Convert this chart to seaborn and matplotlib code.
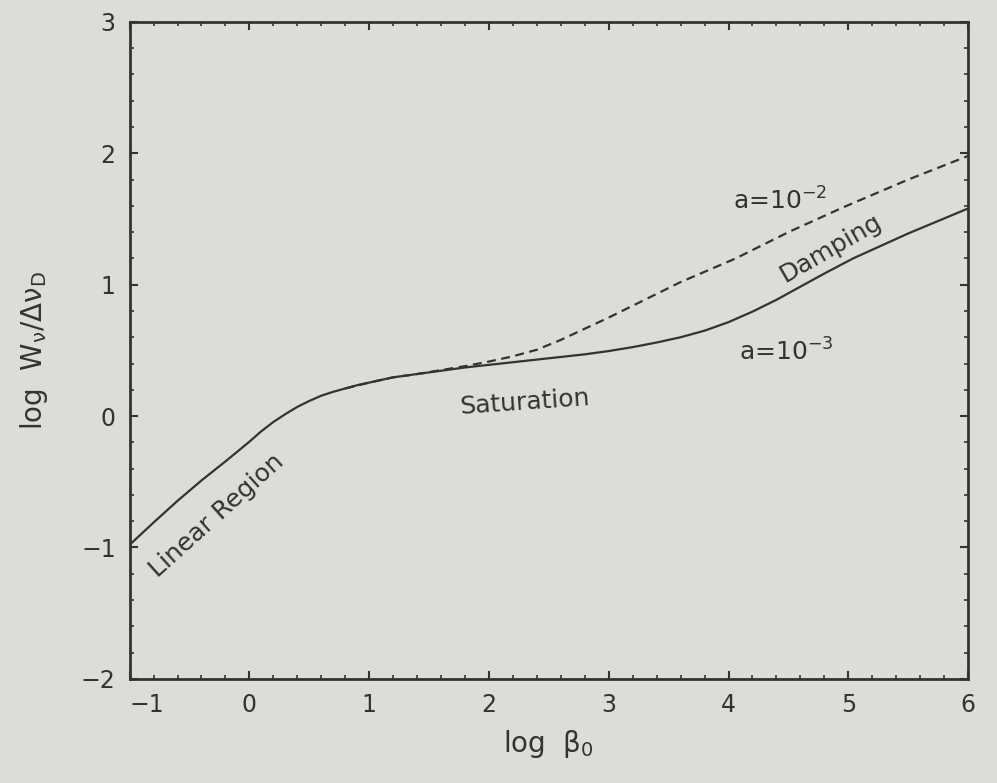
import matplotlib
matplotlib.use("Agg")
import matplotlib.pyplot as plt
import seaborn as sns
import pandas as pd

# ---- data ----
x_a3 = [-1.0, -0.8, -0.6, -0.4, -0.2, -0.1, 0.0, 0.1, 0.2, 0.3, 0.4, 0.5, 0.6, 0.7, 0.8, 0.9, 1.0,
        1.2, 1.4, 1.6, 1.8, 2.0, 2.2, 2.4, 2.6, 2.8, 3.0, 3.2, 3.4, 3.6, 3.8, 4.0, 4.2, 4.4, 4.6,
        4.8, 5.04, 5.5, 6.0]
y_a3 = [-0.98, -0.81, -0.645, -0.49, -0.345, -0.27, -0.195, -0.115, -0.045, 0.015, 0.07, 0.115,
        0.155, 0.185, 0.21, 0.235, 0.255, 0.295, 0.32, 0.345, 0.37, 0.39, 0.41, 0.43, 0.45, 0.47,
        0.495, 0.525, 0.56, 0.60, 0.65, 0.715, 0.795, 0.885, 0.985, 1.085, 1.20, 1.39, 1.58]

x_a2 = [0.8, 1.0, 1.2, 1.4, 1.6, 1.8, 2.0, 2.2, 2.4, 2.6, 2.8, 3.0, 3.2, 3.6, 4.06, 4.5, 4.96, 5.5, 6.0]
y_a2 = [0.21, 0.255, 0.295, 0.32, 0.35, 0.38, 0.415, 0.455, 0.505, 0.58, 0.665, 0.75, 0.84, 1.02,
        1.20, 1.40, 1.59, 1.80, 1.98]

x_ticks = [-1, 0, 1, 2, 3, 4, 5, 6]
y_ticks = [-2, -1, 0, 1, 2, 3]
x_tick_labels = ["\u22121", "0", "1", "2", "3", "4", "5", "6"]
y_tick_labels = ["\u22122", "\u22121", "0", "1", "2", "3"]

annotations = [
    ("Linear Region", -0.27, -0.76, 42),
    ("Saturation", 2.3, 0.10, 4),
    ("Damping", 4.85, 1.28, 30),
    ("a=10$^{-2}$", 4.43, 1.64, 0),
    ("a=10$^{-3}$", 4.48, 0.49, 0),
]

# ---- style ----
paper = "#dddcd7"
ink = "#333333"
sns.set_theme(style="ticks")
plt.rcParams["font.family"] = ["DejaVu Sans"]
plt.rcParams.update({
    "figure.facecolor": paper,
    "axes.facecolor": paper,
    "axes.edgecolor": ink,
    "axes.linewidth": 2.0,
    "text.color": ink,
    "axes.labelcolor": ink,
    "xtick.color": ink,
    "ytick.color": ink,
    "mathtext.default": "regular",
})

fig = plt.figure(figsize=(9.97, 7.83), dpi=100)
ax = fig.add_axes([0.130, 0.133, 0.841, 0.839])

df3 = pd.DataFrame({"x": x_a3, "y": y_a3})
df2 = pd.DataFrame({"x": x_a2, "y": y_a2})
sns.lineplot(data=df3, x="x", y="y", ax=ax, color=ink, lw=1.6, sort=False, estimator=None)
sns.lineplot(data=df2, x="x", y="y", ax=ax, color=ink, lw=1.6, sort=False, estimator=None,
             linestyle=(0, (4, 2.5)))

ax.set_xlim(-1, 6)
ax.set_ylim(-2, 3)
ax.set_xticks(x_ticks)
ax.set_xticklabels(x_tick_labels)
ax.set_yticks(y_ticks)
ax.set_yticklabels(y_tick_labels)
ax.set_xticks([v / 5 for v in range(-5, 31)], minor=True)
ax.set_yticks([v / 5 for v in range(-10, 16)], minor=True)
ax.tick_params(which="both", direction="in", top=True, right=True, labelsize=17)
ax.tick_params(which="major", length=5.5, width=1.5, pad=10)
ax.tick_params(which="minor", length=3, width=1.2)
for s in ax.spines.values():
    s.set_visible(True)
    s.set_linewidth(2.0)

ax.get_xticklabels()[0].set_horizontalalignment("left")

ax.set_xlabel(r"log  $\beta_0$", fontsize=20, labelpad=8)
ax.set_ylabel(r"log  W$_\nu$/$\Delta\nu_D$", fontsize=20, labelpad=22)

for txt, tx, ty, rot in annotations:
    ax.text(tx, ty, txt, fontsize=18, rotation=rot, ha="center", va="center",
            rotation_mode="anchor", color=ink)

fig.savefig("out.png", dpi=100, facecolor=paper)
